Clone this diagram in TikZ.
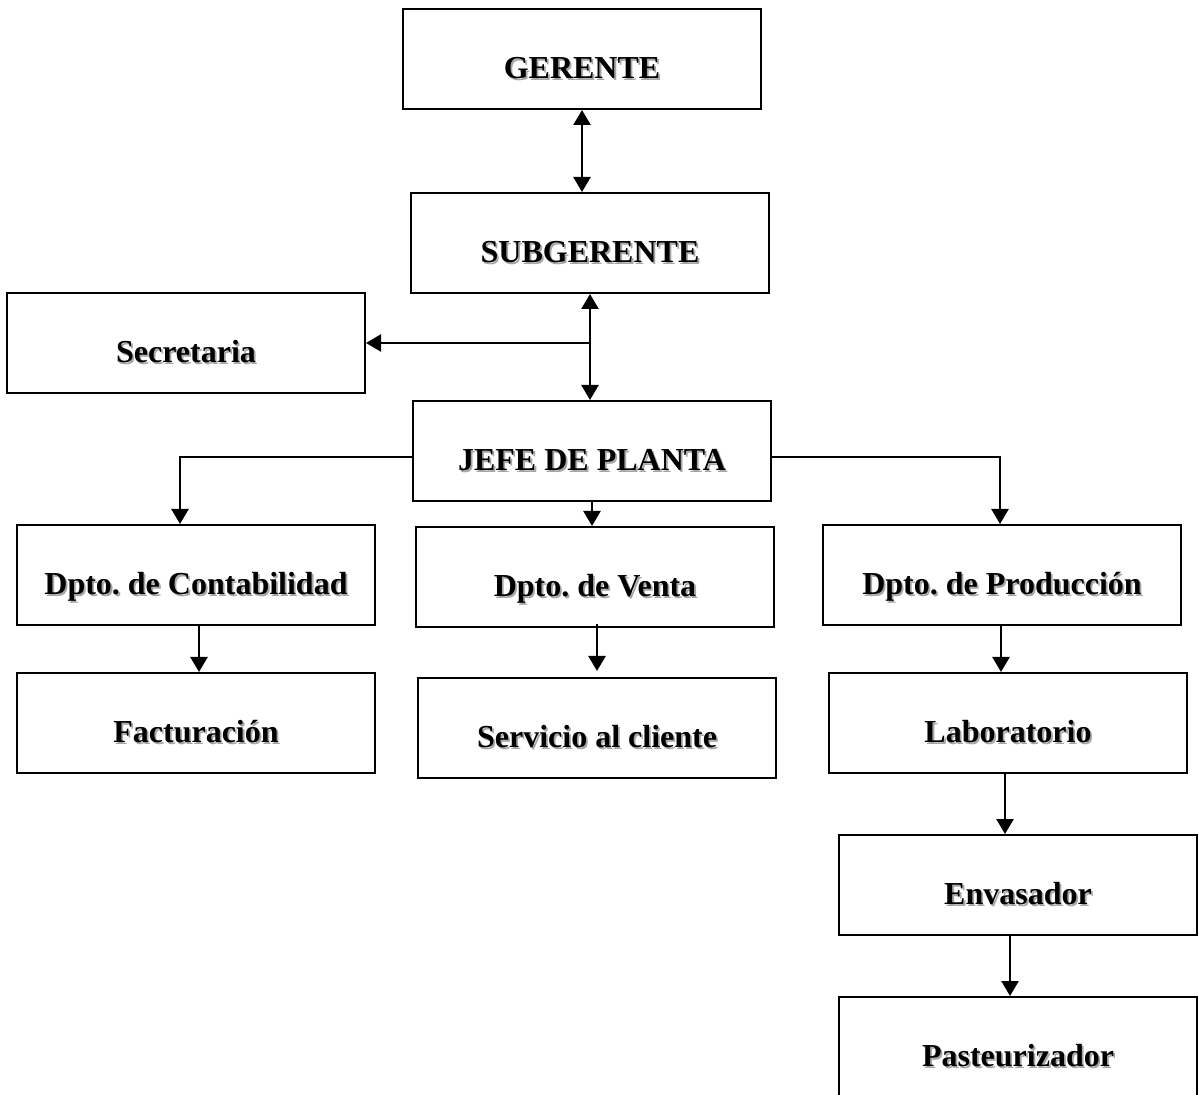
\documentclass[tikz,border=0pt]{standalone}
\usepackage{fontspec}
\setmainfont{Liberation Serif}
\usetikzlibrary{arrows.meta,calc}
\frenchspacing
\newcommand\shd[1]{\makebox[0pt][l]{\hspace{0.9pt}\raisebox{-0.9pt}{\textcolor{black!35}{#1}}}#1}
\tikzset{
  orgbox/.style={draw, line width=1pt, minimum width=179pt, minimum height=50pt,
    inner sep=0pt, text height=19.6pt, text depth=0pt,
    font=\fontsize{16pt}{19pt}\selectfont\bfseries},
  conn/.style={line width=1.2pt, -{Triangle[length=7.5pt,width=8.5pt]}},
  biconn/.style={line width=1.2pt, {Triangle[length=7.5pt,width=8.5pt]}-{Triangle[length=7.5pt,width=8.5pt]}}
}
\begin{document}
\begin{tikzpicture}[x=0.5pt,y=-0.5pt]
\useasboundingbox (0,0) rectangle (1199,1095);
\fill[white] (0,0) rectangle (1199,1095);
\clip (0,0) rectangle (1199,1095);
\node[orgbox] (ger)   at (582,59)   {\shd{GERENTE}};
\node[orgbox] (sub)   at (590,243)  {\shd{SUBGERENTE}};
\node[orgbox] (sec)   at (186,343)  {\shd{Secretaria}};
\node[orgbox] (jefe)  at (592,451)  {\shd{JEFE DE PLANTA}};
\node[orgbox] (cont)  at (196,575)  {\shd{Dpto. de Contabilidad}};
\node[orgbox] (venta) at (595,577)  {\shd{Dpto. de Venta}};
\node[orgbox] (prod)  at (1002,575) {\shd{Dpto. de Producción}};
\node[orgbox] (fact)  at (196,723)  {\shd{Facturación}};
\node[orgbox] (serv)  at (597,728)  {\shd{Servicio al cliente}};
\node[orgbox] (lab)   at (1008,723) {\shd{Laboratorio}};
\node[orgbox] (env)   at (1018,885) {\shd{Envasador}};
\node[orgbox] (past)  at (1018,1047){\shd{Pasteurizador}};
% connectors
\draw[biconn] (ger.south) -- (ger.south |- sub.north);
\draw[biconn] (sub.south) -- (sub.south |- jefe.north);
\coordinate (br) at (sub.south |- sec.east);
\draw[conn] (br) -- (sec.east);
\coordinate (jw) at ($(jefe.west)+(0,6)$);
\coordinate (je) at ($(jefe.east)+(0,6)$);
\coordinate (cn) at ($(cont.north)+(-16,0)$);
\coordinate (pn) at ($(prod.north)+(-2,0)$);
\draw[conn] (jw) -| (cn);
\draw[conn] (je) -| (pn);
\draw[conn] (jefe.south) -- (jefe.south |- venta.north);
\coordinate (cs) at ($(cont.south)+(3,0)$);
\draw[conn] (cs) -- (cs |- fact.north);
\coordinate (vs) at ($(venta.south)+(2,-4)$);
\coordinate (sn) at ($(vs |- serv.north)+(0,-6)$);
\draw[conn] (vs) -- (sn);
\coordinate (ps) at ($(prod.south)+(-1,0)$);
\draw[conn] (ps) -- (ps |- lab.north);
\coordinate (ls) at ($(lab.south)+(-3,-2)$);
\draw[conn] (ls) -- (ls |- env.north);
\coordinate (es) at ($(env.south)+(-8,0)$);
\draw[conn] (es) -- (es |- past.north);
\end{tikzpicture}
\end{document}
